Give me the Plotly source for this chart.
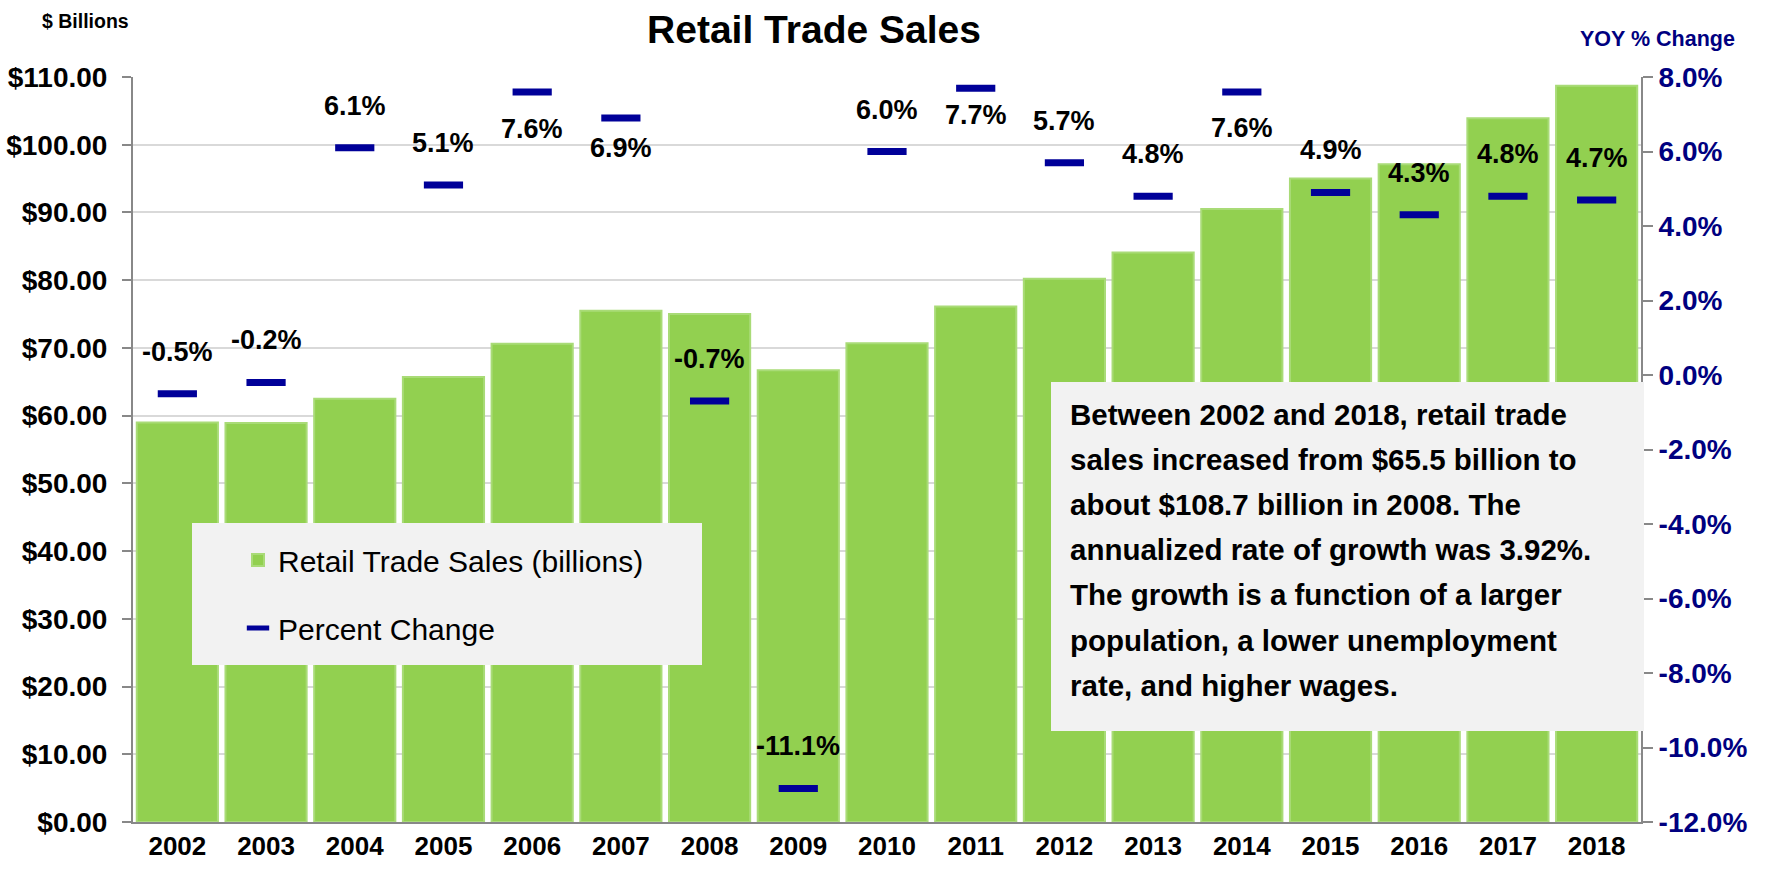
import plotly.graph_objects as go

# ---- data -------------------------------------------------------------
years = ["2002", "2003", "2004", "2005", "2006", "2007", "2008", "2009", "2010",
         "2011", "2012", "2013", "2014", "2015", "2016", "2017", "2018"]
sales_billions = [59.0, 58.9, 62.5, 65.7, 70.6, 75.5, 75.0, 66.7, 70.7,
                  76.1, 80.2, 84.1, 90.5, 95.0, 97.1, 103.9, 108.7]
yoy_pct = [-0.5, -0.2, 6.1, 5.1, 7.6, 6.9, -0.7, -11.1, 6.0,
           7.7, 5.7, 4.8, 7.6, 4.9, 4.3, 4.8, 4.7]
left_ticks = [0, 10, 20, 30, 40, 50, 60, 70, 80, 90, 100, 110]
right_ticks = [-12, -10, -8, -6, -4, -2, 0, 2, 4, 6, 8]
note_lines = [
    "Between 2002 and 2018, retail trade",
    "sales increased from $65.5 billion to",
    "about $108.7 billion in 2008. The",
    "annualized rate of growth was 3.92%.",
    "The growth is a function of a larger",
    "population, a lower unemployment",
    "rate, and higher wages.",
]

# ---- styling ----------------------------------------------------------
FONT = "Liberation Sans, Arial, Helvetica, sans-serif"
GREEN = "#92D050"
NAVY = "#000099"
AXIS_NAVY = "#000080"
BOX_BG = "#F2F2F2"
W, H = 1769, 875
L, R, T, B = 133, 128, 77, 53          # plot-area margins in px
PW, PH = W - L - R, H - T - B

def px_x(px):
    return (px - L) / PW

def px_y(py):
    return (H - B - py) / PH

# labels that sit under their dash (px shift), all others sit above
label_shift_default = 42
label_shift_override = {"2006": -37, "2007": -30, "2011": -27, "2014": -36}

fig = go.Figure()

fig.add_trace(go.Bar(
    x=years, y=sales_billions, name="Retail Trade Sales (billions)",
    marker=dict(color=GREEN, line=dict(color="#A9DB77", width=2)),
    legendgroup="a", yaxis="y",
))

fig.add_trace(go.Scatter(
    x=years, y=yoy_pct, name="Percent Change", mode="markers",
    marker=dict(symbol="line-ew", size=28, color=NAVY,
                line=dict(color=NAVY, width=7)),
    legendgroup="b", yaxis="y2",
))

# value labels for the percent change dashes (category index on x)
for i, (yr, v) in enumerate(zip(years, yoy_pct)):
    fig.add_annotation(
        x=i, y=v, xref="x", yref="y2", text=f"{v:.1f}%", showarrow=False,
        yshift=label_shift_override.get(yr, label_shift_default),
        font=dict(family=FONT, size=27, color="black", weight="bold"),
    )

# background panels for the legend and the note
fig.add_shape(type="rect", xref="paper", yref="paper", layer="above",
              x0=px_x(192), x1=px_x(702), y0=px_y(665), y1=px_y(523),
              fillcolor=BOX_BG, line=dict(width=0))
fig.add_shape(type="rect", xref="paper", yref="paper", layer="above",
              x0=px_x(1051), x1=px_x(1644), y0=px_y(731), y1=px_y(382),
              fillcolor=BOX_BG, line=dict(width=0))

for i, line in enumerate(note_lines):
    fig.add_annotation(
        x=px_x(1068), y=px_y(414 + i * 45.2), xref="paper", yref="paper",
        xanchor="left", yanchor="middle", text=line, showarrow=False,
        font=dict(family=FONT, size=29.5, color="black", weight="bold"),
    )

# axis captions
fig.add_annotation(x=px_x(40), y=px_y(21), xref="paper", yref="paper",
                   xanchor="left", yanchor="middle", text="$ Billions", showarrow=False,
                   font=dict(family=FONT, size=19.5, color="black", weight="bold"))
fig.add_annotation(x=px_x(1737), y=px_y(39), xref="paper", yref="paper",
                   xanchor="right", yanchor="middle", text="YOY % Change", showarrow=False,
                   font=dict(family=FONT, size=21.5, color=AXIS_NAVY, weight="bold"))

fig.update_layout(
    width=W, height=H,
    margin=dict(l=L, r=R, t=T, b=B, autoexpand=False),
    paper_bgcolor="white", plot_bgcolor="white",
    title=dict(text="Retail Trade Sales", xref="container", x=814 / W, xanchor="center",
               yref="container", y=1 - 29 / H, yanchor="middle",
               font=dict(family=FONT, size=39, color="black", weight="bold")),
    bargap=0.085,
    showlegend=True,
    legend=dict(x=px_x(238), y=px_y(534), xanchor="left", yanchor="top",
                bgcolor="rgba(0,0,0,0)", tracegroupgap=26,
                font=dict(family=FONT, size=30, color="black")),
    xaxis=dict(type="category", categoryorder="array", categoryarray=years,
               range=[-0.5, len(years) - 0.5], automargin=False,
               showline=True, linecolor="#888888", linewidth=2,
               ticks="", showgrid=False,
               tickfont=dict(family=FONT, size=26, color="black", weight="bold")),
    yaxis=dict(range=[0, 110], tickvals=left_ticks, automargin=False,
               ticktext=[f"${v:.2f}" for v in left_ticks],
               showline=True, linecolor="#888888", linewidth=2,
               ticks="outside", ticklen=9, tickcolor="#888888", tickwidth=2,
               ticklabelstandoff=9,
               showgrid=True, gridcolor="#D9D9D9", gridwidth=2, zeroline=False,
               tickfont=dict(family=FONT, size=28, color="black", weight="bold")),
    yaxis2=dict(range=[-12, 8], overlaying="y", side="right", tickvals=right_ticks,
                ticktext=[f"{v:.1f}%" for v in right_ticks], automargin=False,
                showline=True, linecolor="#888888", linewidth=2,
                ticks="outside", ticklen=10, tickcolor="#888888", tickwidth=2,
                showgrid=False, zeroline=False,
                tickfont=dict(family=FONT, size=28, color=AXIS_NAVY, weight="bold")),
)

fig.write_html("out.html")
